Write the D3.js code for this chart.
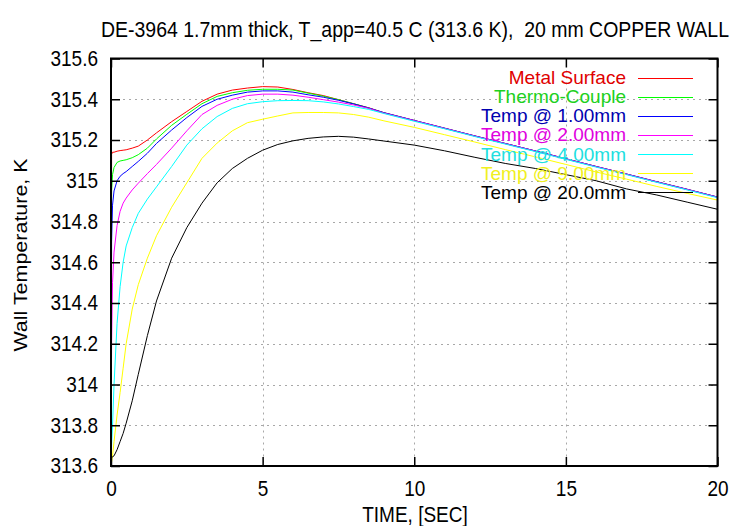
<!DOCTYPE html>
<html><head><meta charset="utf-8">
<script src="https://cdn.jsdelivr.net/npm/d3@7"></script>
<style>
html,body{margin:0;padding:0;background:#fff;}
svg{display:block;font-family:"Liberation Sans",Arial,sans-serif;}
text{white-space:pre;}
</style></head><body>
<svg id="chart" width="751" height="526"></svg>
<script>
const titleText = "DE-3964 1.7mm thick, T_app=40.5 C (313.6 K),  20 mm COPPER WALL";
const xLabel = "TIME, [SEC]";
const yLabel = "Wall Temperature, K";
const xTicks = [0, 5, 10, 15, 20];
const yTicks = [313.6, 313.8, 314.0, 314.2, 314.4, 314.6, 314.8, 315.0, 315.2, 315.4, 315.6];

const time = [0, 0.02, 0.05, 0.1, 0.2, 0.3, 0.4, 0.5, 0.7, 0.9, 1.2, 1.5, 2, 2.5, 3, 3.5, 4, 4.5, 5, 5.5, 6, 6.5, 7, 7.5, 8, 8.5, 9, 10, 11, 12, 13, 14, 15, 16, 17, 18, 19, 20];
const metalSurface = [313.6, 315.13, 315.14, 315.14, 315.145, 315.148, 315.15, 315.152, 315.16, 315.17, 315.2, 315.235, 315.29, 315.34, 315.39, 315.425, 315.445, 315.455, 315.462, 315.46, 315.448, 315.432, 315.418, 315.398, 315.378, 315.358, 315.334, 315.296, 315.258, 315.22, 315.183, 315.146, 315.108, 315.07, 315.033, 314.995, 314.958, 314.92];
const thermoCouple = [313.6, 314.95, 315.03, 315.065, 315.09, 315.097, 315.1, 315.103, 315.113, 315.128, 315.16, 315.205, 315.272, 315.326, 315.378, 315.414, 315.432, 315.444, 315.449, 315.449, 315.445, 315.43, 315.415, 315.398, 315.378, 315.357, 315.333, 315.295, 315.257, 315.219, 315.182, 315.145, 315.107, 315.069, 315.032, 314.994, 314.957, 314.919];
const temp1mm = [313.6, 314.7, 314.88, 314.95, 315.0, 315.022, 315.035, 315.045, 315.07, 315.095, 315.135, 315.183, 315.249, 315.31, 315.365, 315.4, 315.42, 315.435, 315.441, 315.441, 315.435, 315.422, 315.41, 315.395, 315.377, 315.357, 315.334, 315.296, 315.258, 315.22, 315.183, 315.146, 315.108, 315.07, 315.033, 314.995, 314.958, 314.92];
const temp2mm = [313.6, 314.2, 314.5, 314.65, 314.78, 314.85, 314.89, 314.915, 314.955, 314.988, 315.035, 315.08, 315.16, 315.245, 315.325, 315.37, 315.4, 315.418, 315.425, 315.425, 315.42, 315.41, 315.398, 315.386, 315.372, 315.355, 315.332, 315.295, 315.257, 315.219, 315.182, 315.145, 315.107, 315.069, 315.032, 314.994, 314.957, 314.919];
const temp4mm = [313.6, 313.7, 313.8, 314.0, 314.3, 314.48, 314.6, 314.68, 314.77, 314.84, 314.91, 314.97, 315.07, 315.175, 315.255, 315.315, 315.355, 315.378, 315.388, 315.393, 315.394, 315.393, 315.387, 315.377, 315.364, 315.35, 315.33, 315.292, 315.255, 315.217, 315.18, 315.143, 315.105, 315.067, 315.03, 314.992, 314.955, 314.917];
const temp9mm = [313.6, 313.62, 313.65, 313.72, 313.85, 313.96, 314.08, 314.2, 314.37, 314.49, 314.62, 314.73, 314.87, 314.99, 315.11, 315.185, 315.245, 315.285, 315.302, 315.318, 315.333, 315.335, 315.335, 315.333, 315.325, 315.312, 315.294, 315.262, 315.226, 315.19, 315.153, 315.117, 315.08, 315.043, 315.008, 314.972, 314.938, 314.905];
const temp20mm = [313.645, 313.645, 313.645, 313.65, 313.68, 313.72, 313.76, 313.81, 313.92, 314.05, 314.24, 314.41, 314.62, 314.77, 314.89, 314.99, 315.06, 315.11, 315.15, 315.178, 315.196, 315.208, 315.215, 315.218, 315.214, 315.205, 315.195, 315.175, 315.147, 315.115, 315.085, 315.06, 315.03, 315.0, 314.96, 314.93, 314.895, 314.86];

const seriesNames = ["Metal Surface", "Thermo-Couple", "Temp @ 1.00mm", "Temp @ 2.00mm", "Temp @ 4.00mm", "Temp @ 9.00mm", "Temp @ 20.0mm"];
const seriesValues = [metalSurface, thermoCouple, temp1mm, temp2mm, temp4mm, temp9mm, temp20mm];
const lineColors = ["#ff0000", "#00ff00", "#0000ff", "#ff00ff", "#00ffff", "#ffff00", "#000000"];
const textColors = ["#e00000", "#20d020", "#0000b0", "#e000e0", "#20e0e0", "#f0f020", "#000000"];

const svg = d3.select("#chart");
const M = {left: 111, right: 717.5, top: 58.5, bottom: 466};
const x = d3.scaleLinear().domain([0, 20]).range([M.left, M.right]);
const y = d3.scaleLinear().domain([313.6, 315.6]).range([M.bottom, M.top]);
const FS = 19;
const SY = 1.13; // text is slightly taller than wide in the reference

svg.append("rect").attr("width", 751).attr("height", 526).attr("fill", "#fff");

// grid
const grid = svg.append("g").attr("stroke", "#a8a8a8").attr("stroke-width", 1).attr("stroke-dasharray", "2,4");
grid.selectAll("line.gx").data(xTicks.slice(1, -1)).join("line")
  .attr("x1", d => Math.round(x(d)) + 0.5).attr("x2", d => Math.round(x(d)) + 0.5)
  .attr("y1", M.top).attr("y2", M.bottom);
grid.selectAll("line.gy").data(yTicks.slice(1, -1)).join("line")
  .attr("y1", d => Math.round(y(d)) + 0.5).attr("y2", d => Math.round(y(d)) + 0.5)
  .attr("x1", M.left).attr("x2", M.right);

// clip
svg.append("clipPath").attr("id", "clip").append("rect")
  .attr("x", M.left).attr("y", M.top).attr("width", M.right - M.left).attr("height", M.bottom - M.top);

const line = d3.line().x(d => x(d[0])).y(d => y(d[1]));
const plot = svg.append("g").attr("clip-path", "url(#clip)");
seriesValues.forEach((vals, i) => {
  plot.append("path")
    .datum(time.map((t, j) => [t, vals[j]]))
    .attr("fill", "none").attr("stroke", lineColors[i]).attr("stroke-width", 1)
    .attr("d", line);
});

// axes
const fmt = d3.format("~g");
const axL = svg.append("g").attr("transform", `translate(${M.left},0)`)
  .call(d3.axisLeft(y).tickValues(yTicks).tickFormat(fmt).tickSize(-9).tickPadding(13));
const axB = svg.append("g").attr("transform", `translate(0,${M.bottom})`)
  .call(d3.axisBottom(x).tickValues(xTicks).tickFormat(fmt).tickSize(-9).tickPadding(13));
const axR = svg.append("g").attr("transform", `translate(${M.right},0)`)
  .call(d3.axisRight(y).tickValues(yTicks).tickFormat("").tickSize(-9));
const axT = svg.append("g").attr("transform", `translate(0,${M.top})`)
  .call(d3.axisTop(x).tickValues(xTicks).tickFormat("").tickSize(-9));
[axL, axB, axR, axT].forEach(a => {
  a.select(".domain").remove();
  a.selectAll(".tick line").attr("stroke", "#000").attr("stroke-width", 1.5);
  a.selectAll("text").attr("font-size", FS).attr("font-family", "Liberation Sans, Arial, sans-serif")
    .attr("fill", "#000").attr("transform", `scale(1,${SY})`);
});

// frame
svg.append("rect").attr("x", M.left).attr("y", M.top)
  .attr("width", M.right - M.left).attr("height", M.bottom - M.top)
  .attr("fill", "none").attr("stroke", "#000").attr("stroke-width", 2);

// title & labels
svg.append("text").attr("transform", `translate(415,37) scale(1,${SY})`).attr("text-anchor", "middle")
  .attr("font-size", FS).attr("textLength", 628).attr("lengthAdjust", "spacingAndGlyphs")
  .text(titleText);
svg.append("text").attr("transform", `translate(415,522) scale(1,${SY})`).attr("text-anchor", "middle")
  .attr("font-size", FS).text(xLabel);
svg.append("text").attr("transform", `translate(27,255) scale(1,${SY}) rotate(-90)`).attr("text-anchor", "middle")
  .attr("font-size", FS).text(yLabel);

// legend
const leg = svg.append("g");
seriesNames.forEach((n, i) => {
  const yy = 77.5 + i * 19.1;
  leg.append("text").attr("x", 626).attr("y", yy).attr("dy", "0.35em").attr("text-anchor", "end")
    .attr("font-size", FS).attr("fill", textColors[i]).text(n);
  leg.append("line").attr("x1", 638).attr("x2", 693).attr("y1", Math.round(yy) + 0.5).attr("y2", Math.round(yy) + 0.5)
    .attr("stroke", lineColors[i]).attr("stroke-width", 1);
});
</script>
</body></html>
